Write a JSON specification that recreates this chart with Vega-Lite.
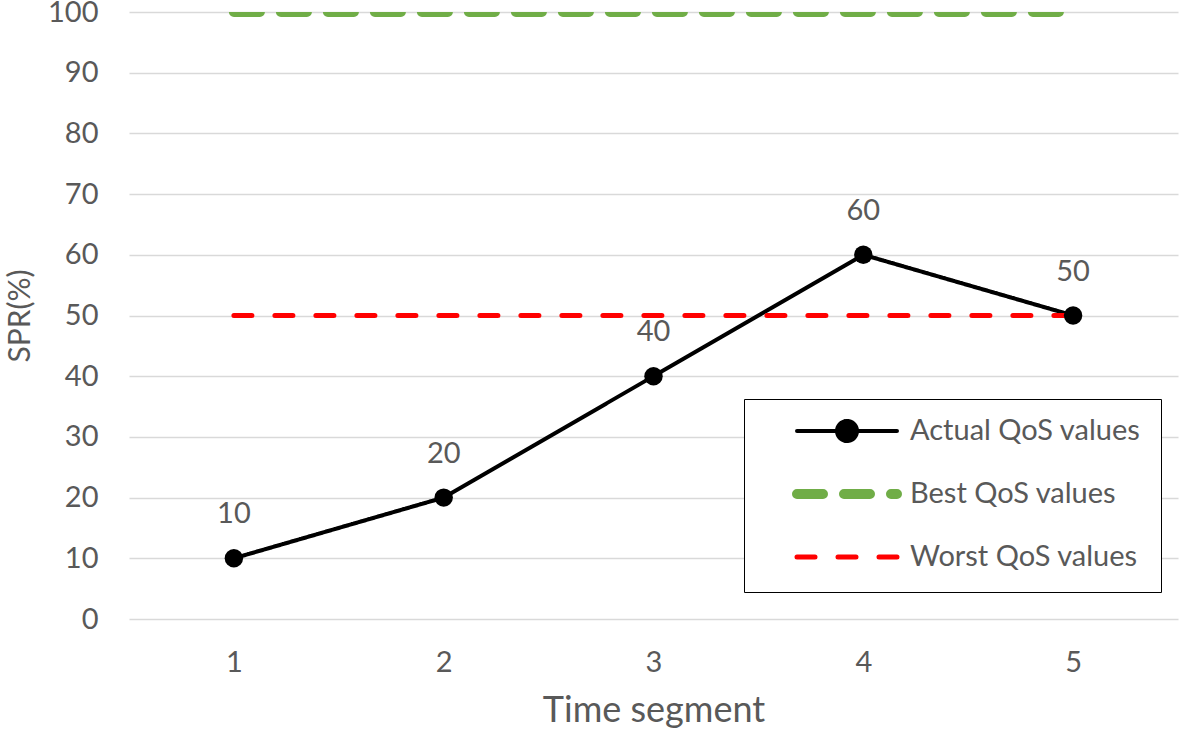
{
  "$schema": "https://vega.github.io/schema/vega-lite/v6.json",
  "width": 1049,
  "height": 607,
  "autosize": {"type": "none"},
  "padding": {"left": 129, "top": 12, "right": 1, "bottom": 114},
  "background": "white",
  "config": {
    "font": "Lato",
    "view": {"stroke": null},
    "axis": {"labelFont": "Lato", "titleFont": "Lato", "labelColor": "#595959", "titleColor": "#595959", "labelFontSize": 29, "titleFontSize": 36, "titleFontWeight": "normal", "domain": false, "ticks": false, "gridColor": "#d9d9d9", "gridWidth": 1.5}
  },
  "data": {
    "values": [
      {"segment": 1, "value": 10, "series": "Actual QoS values"},
      {"segment": 2, "value": 20, "series": "Actual QoS values"},
      {"segment": 3, "value": 40, "series": "Actual QoS values"},
      {"segment": 4, "value": 60, "series": "Actual QoS values"},
      {"segment": 5, "value": 50, "series": "Actual QoS values"},
      {"segment": 1, "value": 100, "series": "Best QoS values"},
      {"segment": 2, "value": 100, "series": "Best QoS values"},
      {"segment": 3, "value": 100, "series": "Best QoS values"},
      {"segment": 4, "value": 100, "series": "Best QoS values"},
      {"segment": 5, "value": 100, "series": "Best QoS values"},
      {"segment": 1, "value": 50, "series": "Worst QoS values"},
      {"segment": 2, "value": 50, "series": "Worst QoS values"},
      {"segment": 3, "value": 50, "series": "Worst QoS values"},
      {"segment": 4, "value": 50, "series": "Worst QoS values"},
      {"segment": 5, "value": 50, "series": "Worst QoS values"}
    ]
  },
  "encoding": {
    "x": {"field": "segment", "type": "ordinal", "scale": {"type": "point", "padding": 0.5},
      "axis": {"title": "Time segment", "labelAngle": 0, "grid": false, "labelPadding": 29, "titlePadding": 16}},
    "y": {"field": "value", "type": "quantitative", "scale": {"domain": [0, 100], "nice": false},
      "axis": {"title": "SPR(%)", "titleFontSize": 30, "tickCount": 10, "labelPadding": 31, "titlePadding": 12}}
  },
  "layer": [
    {
      "mark": {"type": "line", "clip": true, "strokeCap": "round", "strokeJoin": "round"},
      "encoding": {
        "color": {"field": "series", "type": "nominal",
          "scale": {"domain": ["Actual QoS values", "Best QoS values", "Worst QoS values"], "range": ["#000000", "#70ad47", "#ff0000"]},
          "legend": {
            "title": null, "orient": "none", "legendX": 615, "legendY": 387,
            "strokeColor": "#000000", "fillColor": "#ffffff", "padding": 20, "symbolOffset": 28,
            "symbolType": "stroke", "symbolSize": 10000, "clipHeight": 24, "rowPadding": 34, "labelOffset": 8, "labelLimit": 400,
            "labelFont": "Lato", "labelFontSize": 29, "labelColor": "#595959",
            "encode": {"symbols": {"update": {
              "shape": {"signal": "datum.value === 'Actual QoS values' ? 'M-1,0L1,0M0.2,0A0.2,0.2 0 1,1 -0.2,0A0.2,0.2 0 1,1 0.2,0Z' : 'stroke'"},
              "fill": {"signal": "datum.value === 'Actual QoS values' ? '#000000' : 'transparent'"},
              "strokeCap": {"value": "round"}
            }}}
          }},
        "strokeDash": {"field": "series", "type": "nominal",
          "scale": {"domain": ["Actual QoS values", "Best QoS values", "Worst QoS values"], "range": [[1, 0], [26, 21], [18, 23]]}},
        "strokeWidth": {"field": "series", "type": "nominal",
          "scale": {"type": "ordinal", "domain": ["Actual QoS values", "Best QoS values", "Worst QoS values"], "range": [4, 10, 5]}}
      }
    },
    {
      "transform": [{"filter": "datum.series === 'Actual QoS values'"}],
      "mark": {"type": "circle", "size": 340, "color": "#000000", "opacity": 1}
    },
    {
      "transform": [{"filter": "datum.series === 'Actual QoS values'"}],
      "mark": {"type": "text", "dy": -44, "fontSize": 29, "font": "Lato", "color": "#595959"},
      "encoding": {"text": {"field": "value", "type": "quantitative"}}
    }
  ]
}
